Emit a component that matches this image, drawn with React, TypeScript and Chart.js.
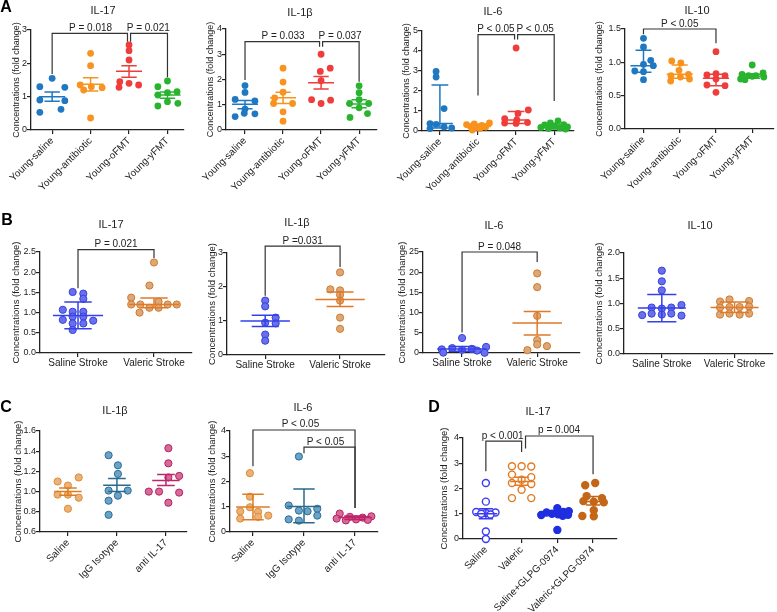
import React, { useEffect, useRef } from 'react';
import { Chart, registerables } from 'chart.js';
Chart.register(...registerables);

const FONT = "'Liberation Sans', Arial, Helvetica, sans-serif";
const INK = '#222222';
const Y_TITLE = 'Concentrations (fold change)';

// ---------- categories ----------
const catsA = ['Young-saline', 'Young-antibiotic', 'Young-oFMT', 'Young-yFMT'];
const catsB = ['Saline Stroke', 'Valeric Stroke'];
const catsC = ['Saline', 'IgG Isotype', 'anti IL-17'];
const catsD = ['Saline', 'Valeric', 'Saline+GLPG-0974', 'Valeric+GLPG-0974'];

// ---------- y tick labels ----------
const ticksA1 = [0, 1, 2, 3];
const ticksA2 = [0, 1, 2, 3, 4];
const ticksA3 = [0, 1, 2, 3, 4, 5];
const ticksA4 = [0, 0.5, 1.0, 1.5];
const ticksB1 = [0, 0.5, 1.0, 1.5, 2.0, 2.5];
const ticksB2 = [0, 1, 2, 3];
const ticksB3 = [0, 5, 10, 15, 20, 25];
const ticksB4 = [0, 0.5, 1.0, 1.5, 2.0];
const ticksC1 = [0.6, 0.8, 1.0, 1.2, 1.4, 1.6];
const ticksC2 = [0, 1, 2, 3, 4];
const ticksD = [0, 1, 2, 3, 4];

// ---------- A: IL-17 ----------
const a1Vals = [
  [1.55, 1.3, 1.28, 0.9, 0.88, 0.62, 0.53],
  [2.3, 1.93, 1.35, 1.3, 1.27, 1.2, 0.36],
  [2.55, 2.38, 2.1, 1.45, 1.4, 1.35, 1.28],
  [1.47, 1.3, 1.15, 1.12, 1.05, 0.85, 0.8, 0.72],
];
const a1Jit = [
  [0, -0.32, 0.33, -0.32, 0.33, 0.23, -0.32],
  [0, 0, -0.27, 0.02, 0.3, -0.18, 0],
  [0, 0, 0, -0.24, 0, 0.25, -0.26],
  [0, -0.25, 0.25, 0, -0.25, 0, 0.27, -0.25],
];
const a1Center = [1.0, 1.37, 1.76, 1.05];
const a1Lo = [0.86, 1.17, 1.58, 0.95];
const a1Hi = [1.14, 1.57, 1.93, 1.14];
const a1Brackets = [
  { x1: 0, x2: 1.96, y: 2.9, yl: 1.68, yr: 2.65, text: 'P = 0.018', tx: 1 },
  { x1: 2.04, x2: 3, y: 2.9, yl: 2.65, yr: 1.58, text: 'P = 0.021', tx: 2.5 },
];

// ---------- A: IL-1β ----------
const a2Vals = [
  [1.76, 1.49, 1.21, 1.15, 0.83, 0.66, 0.64, 0.53],
  [2.45, 1.9, 1.5, 1.27, 1.05, 1.05, 0.72, 0.35],
  [3.0, 2.45, 2.32, 1.95, 1.2, 1.18, 1.05],
  [1.75, 1.48, 1.2, 1.05, 1.05, 0.88, 0.65, 0.5],
];
const a2Jit = [
  [0, 0, -0.26, 0.26, 0, -0.02, 0.26, -0.26],
  [0, 0, 0, -0.22, -0.25, 0.25, 0, 0],
  [0, 0.24, -0.02, 0, -0.25, 0.25, 0],
  [0, 0, 0, -0.25, 0.25, 0, 0.22, -0.24],
];
const a2Center = [1.02, 1.28, 1.87, 1.03];
const a2Lo = [0.84, 1.05, 1.62, 0.88];
const a2Hi = [1.17, 1.5, 2.12, 1.2];
const a2Brackets = [
  { x1: 0, x2: 1.96, y: 3.5, yl: 1.98, yr: 3.3, text: 'P = 0.033', tx: 1 },
  { x1: 2.04, x2: 3, y: 3.5, yl: 3.3, yr: 1.91, text: 'P = 0.037', tx: 2.5 },
];

// ---------- A: IL-6 ----------
const a3Vals = [
  [2.98, 2.7, 1.12, 0.37, 0.33, 0.2, 0.15, 0.12],
  [0.4, 0.35, 0.32, 0.28, 0.22, 0.2, 0.18, 0.12, 0.05],
  [4.15, 1.05, 0.88, 0.62, 0.55, 0.42, 0.4, 0.38],
  [0.5, 0.4, 0.32, 0.3, 0.25, 0.2, 0.18, 0.15, 0.12, 0.1],
];
const a3Jit = [
  [-0.1, -0.1, 0.11, -0.26, -0.1, 0.11, 0.31, -0.26],
  [0.3, -0.1, -0.3, 0.1, -0.2, 0.2, -0.05, 0.05, -0.15],
  [0, 0.32, 0.05, -0.3, 0.02, 0.3, -0.3, 0],
  [0.1, -0.1, 0.25, -0.25, 0, 0.35, -0.35, 0.15, -0.15, 0.3],
];
const a3Center = [0.37, 0.22, 0.55, 0.18];
const a3Lo = [0.15, 0.1, 0.38, 0.1];
const a3Hi = [2.3, 0.35, 0.98, 0.3];
const a3Brackets = [
  { x1: 1, x2: 1.96, y: 4.82, yl: 1.78, yr: 4.57, text: 'P < 0.05', tx: 1.47 },
  { x1: 2.04, x2: 3, y: 4.82, yl: 4.57, yr: 1.5, text: 'P < 0.05', tx: 2.5 },
];

// ---------- A: IL-10 ----------
const a4Vals = [
  [1.36, 1.23, 1.03, 0.97, 0.95, 0.87, 0.86, 0.74],
  [1.02, 0.99, 0.88, 0.82, 0.8, 0.78, 0.75, 0.72],
  [1.16, 0.83, 0.81, 0.8, 0.75, 0.66, 0.65, 0.55],
  [0.96, 0.84, 0.82, 0.8, 0.8, 0.79, 0.78, 0.75, 0.74],
];
const a4Jit = [
  [0, 0, 0.2, 0, 0.27, -0.24, 0, 0],
  [-0.22, 0.03, -0.02, 0.24, -0.24, 0.02, 0.27, -0.25],
  [0, 0, -0.25, 0.25, 0, -0.25, 0.25, 0],
  [0, 0.3, -0.28, 0.1, -0.1, 0, 0.32, -0.32, -0.2],
];
const a4Center = [0.95, 0.82, 0.76, 0.79];
const a4Lo = [0.85, 0.76, 0.65, 0.76];
const a4Hi = [1.18, 0.96, 0.82, 0.82];
const a4Brackets = [{ x1: 0, x2: 2, y: 1.5, yl: 1.42, yr: 1.285, text: 'P < 0.05', tx: 1 }];

// ---------- B ----------
const b1Vals = [
  [1.51, 1.47, 1.34, 1.07, 1.02, 1.02, 0.9, 0.9, 0.82, 0.8, 0.73, 0.73, 0.57],
  [2.24, 1.67, 1.37, 1.27, 1.2, 1.2, 1.2, 1.2, 1.12, 1.12, 1.0],
];
const b1Jit = [
  [-0.07, 0.07, 0.07, -0.2, -0.07, 0.07, -0.07, 0.07, -0.2, 0.2, -0.07, 0.07, -0.07],
  [0, -0.06, -0.3, 0.06, -0.3, -0.18, 0.18, 0.3, -0.06, 0.06, -0.19],
];
const b1Center = [0.93, 1.2];
const b1Lo = [0.6, 1.12];
const b1Hi = [1.26, 1.36];
const b1Brackets = [{ x1: 0, x2: 1, y: 2.56, yl: 1.6, yr: 2.35, text: 'P = 0.021', tx: 0.5 }];

const b2Vals = [
  [1.6, 1.43, 1.1, 0.95, 0.93, 0.6, 0.42],
  [2.43, 1.93, 1.9, 1.77, 1.6, 1.1, 0.77],
];
const b2Jit = [
  [0, 0, 0.14, 0, 0.14, 0, 0],
  [0, -0.13, 0, 0, 0, 0, 0],
];
const b2Center = [1.0, 1.63];
const b2Lo = [0.84, 1.43];
const b2Hi = [1.17, 1.85];
const b2Brackets = [{ x1: 0, x2: 1, y: 3.2, yl: 1.74, yr: 2.59, text: 'P =0.031', tx: 0.5 }];

const b3Vals = [
  [3.7, 1.5, 1.2, 1.0, 0.9, 0.8, 0.6, 0.1, 0.05],
  [19.7, 16.3, 9.2, 3.2, 2.1, 1.7, 0.7],
];
const b3Jit = [
  [0, 0.32, -0.13, 0.13, -0.27, 0, 0.2, -0.25, 0.3],
  [0, 0, 0, 0, 0, 0.13, -0.13],
];
const b3Center = [1.0, 7.44];
const b3Lo = [0.45, 4.46];
const b3Hi = [1.6, 10.3];
const b3Brackets = [{ x1: 0, x2: 1, y: 25, yl: 5.1, yr: 22.5, text: 'P = 0.048', tx: 0.5 }];

const b4Vals = [
  [1.65, 1.44, 1.26, 0.97, 0.92, 0.92, 0.9, 0.8, 0.8, 0.78, 0.77, 0.76],
  [1.08, 1.05, 1.04, 0.94, 0.93, 0.93, 0.92, 0.8, 0.8, 0.78, 0.78],
];
const b4Jit = [
  [0, 0, 0, 0.27, -0.14, 0.13, 0, -0.14, 0.13, 0, -0.27, 0.27],
  [-0.07, 0.2, -0.2, 0.2, 0.07, -0.07, -0.2, 0.2, -0.07, 0.07, -0.2],
];
const b4Center = [0.91, 0.92];
const b4Lo = [0.64, 0.82];
const b4Hi = [1.18, 1.03];

// ---------- C ----------
const c1Vals = [
  [1.14, 1.1, 1.06, 0.97, 0.97, 0.94, 0.83],
  [1.36, 1.26, 1.175, 1.01, 1.01, 0.96, 0.91, 0.77],
  [1.43, 1.28, 1.155, 1.14, 1.0, 1.0, 0.99, 0.89],
];
const c1Jit = [
  [0.22, -0.21, 0, -0.21, 0, 0.22, 0],
  [-0.17, 0.02, 0.02, -0.17, 0.22, 0.02, -0.17, -0.17],
  [0.05, 0.05, 0.27, 0.05, -0.35, -0.14, 0.27, 0.05],
];
const c1Center = [1.0, 1.063, 1.11];
const c1Lo = [0.965, 1.0, 1.06];
const c1Hi = [1.036, 1.13, 1.17];

const c2Vals = [
  [2.33, 1.4, 0.98, 0.82, 0.8, 0.65, 0.6, 0.53],
  [2.99, 1.05, 0.92, 0.85, 0.82, 0.65, 0.5, 0.45],
  [0.73, 0.62, 0.6, 0.57, 0.53, 0.5, 0.48, 0.46],
];
const c2Jit = [
  [-0.06, -0.06, -0.06, -0.25, 0.1, 0.3, 0.1, -0.25],
  [-0.1, -0.3, 0.26, -0.1, 0.07, 0.26, -0.3, -0.1],
  [-0.3, 0.32, -0.1, 0.15, -0.36, 0.02, 0.25, -0.18],
];
const c2Center = [0.99, 1.01, 0.57];
const c2Lo = [0.49, 0.37, 0.5];
const c2Hi = [1.5, 1.7, 0.63];
const c2Brackets = [
  { x1: 0, x2: 2, y: 4.04, yl: 2.6, yr: 0.95, text: 'P < 0.05', tx: 0.93 },
  { x1: 1, x2: 2, y: 3.36, yl: 3.12, yr: 0.95, text: 'P < 0.05', tx: 1.42 },
];

// ---------- D ----------
const dVals = [
  [2.22, 1.48, 1.07, 1.05, 1.03, 1.0, 0.97, 0.3, 0.0],
  [2.88, 2.88, 2.87, 2.55, 2.45, 2.35, 2.22, 2.18, 1.95, 1.62, 1.62],
  [1.22, 1.1, 1.07, 1.05, 1.0, 0.98, 0.96, 0.95, 0.92, 0.36],
  [2.22, 2.13, 1.7, 1.62, 1.5, 1.48, 1.45, 1.14, 0.91, 0.9],
];
const dJit = [
  [0, 0, -0.27, 0.27, 0, -0.13, 0.13, 0, 0],
  [-0.27, 0, 0.27, -0.27, 0.27, 0, -0.27, 0.27, 0, -0.27, 0.27],
  [0, 0.32, 0.17, -0.3, -0.15, 0.02, 0.3, -0.45, 0.15, 0],
  [0.06, -0.22, -0.18, 0.25, -0.27, 0.02, 0.3, 0.02, -0.3, 0.02],
];
const dCenter = [1.0, 2.28, 1.0, 1.49];
const dLo = [0.8, 2.13, 0.93, 1.35];
const dHi = [1.2, 2.45, 1.05, 1.68];
const dBrackets = [
  { x1: 0, x2: 1, y: 3.88, yl: 2.68, yr: 3.45, text: 'p < 0.001', tx: 0.47 },
  { x1: 1.11, x2: 3, y: 4.08, yl: 3.58, yr: 2.56, text: 'p = 0.004', tx: 2.05 },
];

// ---------- colours ----------
const colA = ['#1f78c1', '#f7931e', '#ee3d3a', '#29b32e'];
const fillB = ['#6a70ea', '#dba87a'];
const edgeB = ['#3540e0', '#d4782a'];
const lineB = ['#3540e8', '#e07a28'];
const fillC = ['#eab27a', '#6aa2c8', '#d56b9a'];
const edgeC = ['#de8a34', '#2c6e94', '#b8205e'];
const lineC = ['#e07c20', '#2a6a8e', '#c0246a'];
const fillD = ['#ffffff', '#ffffff', '#1f2fe0', '#c46618'];
const edgeD = ['#3a3af4', '#e27a22', '#1f2fe0', '#c46618'];

type Bracket = { x1: number; x2: number; y: number; yl: number; yr: number; text: string; tx: number };
type Spec = {
  cats: string[]; vals: number[][]; jit: number[][];
  center: number[]; lo: number[]; hi: number[];
  yTicks: number[]; dec: number;
  fill: string[]; edge: string[]; line: string[];
  plot: [number, number, number, number];
  xr: [number, number]; yr: [number, number];
  yTitleX: number; yTitleSize: number; rot: number;
  title: [string, number, number];
  brackets: Bracket[];
  mh: number; ch: number; r: number; bw: number; lw: number;
  letter?: [string, number, number];
};

const specs: Spec[] = [
  {
    cats: catsA, vals: a1Vals, jit: a1Jit, center: a1Center, lo: a1Lo, hi: a1Hi,
    yTicks: ticksA1, dec: 0, fill: colA, edge: colA, line: colA,
    plot: [31, 30, 184, 130], xr: [-0.55, 3.43], yr: [0, 3], yTitleX: 16.5, yTitleSize: 9, rot: 45,
    title: ['IL-17', 103, 11], brackets: a1Brackets, mh: 0.34, ch: 0.2, r: 3.4, bw: 0, lw: 1.5,
    letter: ['A', 6, 8],
  },
  {
    cats: catsA, vals: a2Vals, jit: a2Jit, center: a2Center, lo: a2Lo, hi: a2Hi,
    yTicks: ticksA2, dec: 0, fill: colA, edge: colA, line: colA,
    plot: [226, 29, 377, 130], xr: [-0.5, 3.47], yr: [0, 4], yTitleX: 211, yTitleSize: 9, rot: 45,
    title: ['IL-1β', 300, 13], brackets: a2Brackets, mh: 0.34, ch: 0.2, r: 3.4, bw: 0, lw: 1.5,
  },
  {
    cats: catsA, vals: a3Vals, jit: a3Jit, center: a3Center, lo: a3Lo, hi: a3Hi,
    yTicks: ticksA3, dec: 0, fill: colA, edge: colA, line: colA,
    plot: [422, 31, 574, 131], xr: [-0.47, 3.52], yr: [0, 5], yTitleX: 407, yTitleSize: 9, rot: 45,
    title: ['IL-6', 493, 12], brackets: a3Brackets, mh: 0.34, ch: 0.22, r: 3.4, bw: 0, lw: 1.5,
  },
  {
    cats: catsA, vals: a4Vals, jit: a4Jit, center: a4Center, lo: a4Lo, hi: a4Hi,
    yTicks: ticksA4, dec: 1, fill: colA, edge: colA, line: colA,
    plot: [625, 29, 777, 129], xr: [-0.51, 3.59], yr: [0, 1.5], yTitleX: 600, yTitleSize: 9, rot: 45,
    title: ['IL-10', 697, 11], brackets: a4Brackets, mh: 0.36, ch: 0.22, r: 3.4, bw: 0, lw: 1.5,
  },
  {
    cats: catsB, vals: b1Vals, jit: b1Jit, center: b1Center, lo: b1Lo, hi: b1Hi,
    yTicks: ticksB1, dec: 1, fill: fillB, edge: edgeB, line: lineB,
    plot: [40, 252, 192, 353], xr: [-0.5, 1.5], yr: [0, 2.5], yTitleX: 16.5, yTitleSize: 9.5, rot: 0,
    title: ['IL-17', 111, 225], brackets: b1Brackets, mh: 0.33, ch: 0.18, r: 3.6, bw: 1, lw: 1.5,
    letter: ['B', 7, 221],
  },
  {
    cats: catsB, vals: b2Vals, jit: b2Jit, center: b2Center, lo: b2Lo, hi: b2Hi,
    yTicks: ticksB2, dec: 0, fill: fillB, edge: edgeB, line: lineB,
    plot: [227, 253, 385, 355], xr: [-0.51, 1.6], yr: [0, 3], yTitleX: 212, yTitleSize: 9.5, rot: 0,
    title: ['IL-1β', 297, 223], brackets: b2Brackets, mh: 0.33, ch: 0.18, r: 3.6, bw: 1, lw: 1.5,
  },
  {
    cats: catsB, vals: b3Vals, jit: b3Jit, center: b3Center, lo: b3Lo, hi: b3Hi,
    yTicks: ticksB3, dec: 0, fill: fillB, edge: edgeB, line: lineB,
    plot: [423, 252, 580, 353], xr: [-0.52, 1.57], yr: [0, 25], yTitleX: 402, yTitleSize: 9.5, rot: 0,
    title: ['IL-6', 494, 226], brackets: b3Brackets, mh: 0.33, ch: 0.18, r: 3.6, bw: 1, lw: 1.5,
  },
  {
    cats: catsB, vals: b4Vals, jit: b4Jit, center: b4Center, lo: b4Lo, hi: b4Hi,
    yTicks: ticksB4, dec: 1, fill: fillB, edge: edgeB, line: lineB,
    plot: [624, 253, 777, 354], xr: [-0.52, 1.52], yr: [0, 2], yTitleX: 599, yTitleSize: 9.5, rot: 0,
    title: ['IL-10', 700, 226], brackets: [], mh: 0.33, ch: 0.2, r: 3.6, bw: 1, lw: 1.5,
  },
  {
    cats: catsC, vals: c1Vals, jit: c1Jit, center: c1Center, lo: c1Lo, hi: c1Hi,
    yTicks: ticksC1, dec: 1, fill: fillC, edge: edgeC, line: lineC,
    plot: [40, 431, 187, 532], xr: [-0.57, 2.43], yr: [0.6, 1.6], yTitleX: 18, yTitleSize: 9.5, rot: 45,
    title: ['IL-1β', 115, 411], brackets: [], mh: 0.28, ch: 0.18, r: 3.6, bw: 1, lw: 1.5,
    letter: ['C', 6, 408],
  },
  {
    cats: catsC, vals: c2Vals, jit: c2Jit, center: c2Center, lo: c2Lo, hi: c2Hi,
    yTicks: ticksC2, dec: 0, fill: fillC, edge: edgeC, line: lineC,
    plot: [230, 431, 378, 532], xr: [-0.45, 2.45], yr: [0, 4], yTitleX: 212, yTitleSize: 9.5, rot: 45,
    title: ['IL-6', 303, 408], brackets: c2Brackets, mh: 0.33, ch: 0.21, r: 3.6, bw: 1, lw: 1.5,
  },
  {
    cats: catsD, vals: dVals, jit: dJit, center: dCenter, lo: dLo, hi: dHi,
    yTicks: ticksD, dec: 0, fill: fillD, edge: edgeD, line: edgeD,
    plot: [463, 438, 617, 539], xr: [-0.64, 3.67], yr: [0, 4], yTitleX: 444, yTitleSize: 9.5, rot: 45,
    title: ['IL-17', 538, 412], brackets: dBrackets, mh: 0.32, ch: 0.2, r: 3.5, bw: 1.4, lw: 1.5,
    letter: ['D', 434, 408],
  },
];

function overlay(s: Spec) {
  return {
    id: 'overlay' + s.title[1],
    afterDatasetsDraw(chart: any) {
      const ctx = chart.ctx as CanvasRenderingContext2D;
      const xs = chart.scales.x;
      const ys = chart.scales.y;
      const X = (v: number) => xs.getPixelForValue(v);
      const Y = (v: number) => ys.getPixelForValue(v);
      ctx.save();
      ctx.lineWidth = s.lw;
      s.center.forEach((c, g) => {
        ctx.strokeStyle = s.line[g];
        ctx.beginPath();
        ctx.moveTo(X(g - s.mh), Y(c));
        ctx.lineTo(X(g + s.mh), Y(c));
        ctx.moveTo(X(g), Y(s.lo[g]));
        ctx.lineTo(X(g), Y(s.hi[g]));
        for (const v of [s.lo[g], s.hi[g]]) {
          ctx.moveTo(X(g - s.ch), Y(v));
          ctx.lineTo(X(g + s.ch), Y(v));
        }
        ctx.stroke();
      });
      ctx.strokeStyle = '#333333';
      ctx.lineWidth = 1.2;
      ctx.fillStyle = INK;
      ctx.font = `10px ${FONT}`;
      ctx.textAlign = 'center';
      ctx.textBaseline = 'alphabetic';
      for (const b of s.brackets) {
        const py = Y(b.y);
        ctx.beginPath();
        ctx.moveTo(X(b.x1), Y(b.yl));
        ctx.lineTo(X(b.x1), py);
        ctx.lineTo(X(b.x2), py);
        ctx.lineTo(X(b.x2), Y(b.yr));
        ctx.stroke();
        ctx.fillText(b.text, X(b.tx), py - 2.5);
      }
      ctx.font = `11px ${FONT}`;
      ctx.textBaseline = 'middle';
      ctx.fillText(s.title[0], s.title[1], s.title[2]);
      if (s.letter) {
        ctx.font = `bold 16px ${FONT}`;
        ctx.fillStyle = '#000';
        ctx.fillText(s.letter[0], s.letter[1], s.letter[2]);
      }
      ctx.restore();
    },
  };
}

function buildConfig(s: Spec): any {
  const [pl, pt, pr, pb] = s.plot;
  const yLeft = s.yTitleX - 0.6 * s.yTitleSize;
  const datasets = s.vals.map((arr, g) => ({
    data: arr.map((v, k) => ({ x: g + s.jit[g][k], y: v })),
    backgroundColor: s.fill[g],
    borderColor: s.edge[g],
    borderWidth: s.bw,
    pointRadius: s.r,
    pointHoverRadius: s.r,
    showLine: false,
    clip: false,
  }));
  const gridOpts = { display: true, drawOnChartArea: false, drawTicks: true, tickLength: 4, color: INK, lineWidth: 1.2 };
  const borderOpts = { display: true, color: INK, width: 1.3 };
  return {
    type: 'scatter',
    data: { datasets },
    options: {
      responsive: false,
      animation: false,
      devicePixelRatio: 1,
      events: [],
      layout: { padding: { left: yLeft, top: pt, right: 777 - pr, bottom: 0 } },
      plugins: { legend: { display: false }, tooltip: { enabled: false }, title: { display: false } },
      scales: {
        x: {
          type: 'linear',
          min: s.xr[0],
          max: s.xr[1],
          afterBuildTicks: (sc: any) => { sc.ticks = s.cats.map((_, i) => ({ value: i })); },
          afterFit: (sc: any) => { sc.height = 612 - pb; },
          ticks: {
            autoSkip: false,
            maxRotation: s.rot,
            minRotation: s.rot,
            padding: s.rot ? 1 : 0,
            color: INK,
            font: { family: FONT, size: 10 },
            callback: (v: any) => s.cats[Math.round(Number(v))] ?? '',
          },
          grid: gridOpts,
          border: borderOpts,
        },
        y: {
          type: 'linear',
          min: s.yr[0],
          max: s.yr[1],
          afterBuildTicks: (sc: any) => { sc.ticks = s.yTicks.map((v) => ({ value: v })); },
          afterFit: (sc: any) => { sc.width = pl - yLeft; },
          ticks: {
            padding: 0,
            color: INK,
            font: { family: FONT, size: 9 },
            callback: (v: any) => Number(v).toFixed(s.dec),
          },
          title: { display: true, text: Y_TITLE, color: INK, padding: 0, font: { family: FONT, size: s.yTitleSize } },
          grid: gridOpts,
          border: borderOpts,
        },
      },
    },
    plugins: [overlay(s)],
  };
}

function Panel({ spec }: { spec: Spec }) {
  const ref = useRef<HTMLCanvasElement | null>(null);
  useEffect(() => {
    if (!ref.current) return;
    const chart = new Chart(ref.current, buildConfig(spec));
    return () => chart.destroy();
  }, [spec]);
  return (
    <canvas
      ref={ref}
      width={777}
      height={612}
      style={{ position: 'absolute', left: 0, top: 0, width: 777, height: 612 }}
    />
  );
}

export default function App() {
  return (
    <div style={{ position: 'absolute', left: 0, top: 0, width: 777, height: 612, background: '#ffffff', overflow: 'hidden' }}>
      {specs.map((s, i) => (
        <Panel key={i} spec={s} />
      ))}
    </div>
  );
}
